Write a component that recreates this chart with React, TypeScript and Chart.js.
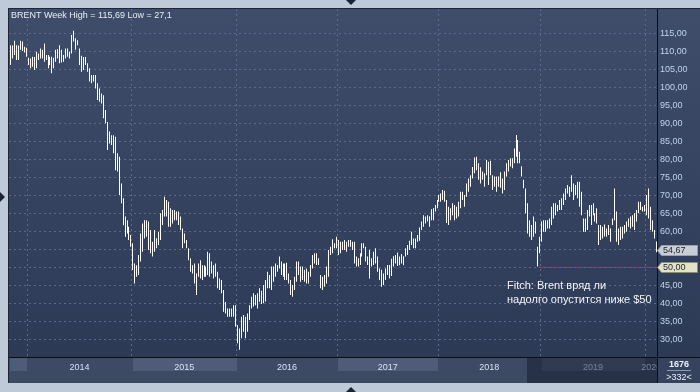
import React, { useEffect, useRef } from 'react';
import { Chart, registerables } from 'chart.js';

Chart.register(...registerables);

// ---------------- data (weekly BRENT high / low) ----------------
const weekHigh: number[] = [
  111.7, 111.6, 112.9, 111.7, 111.6, 112.9, 112.7, 111.3, 111.0, 108.2,
  108.0, 108.5, 108.4, 109.9, 109.4, 110.8, 110.4, 112.2, 109.0, 109.0,
  108.5, 108.5, 108.2, 110.4, 110.6, 111.7, 110.4, 109.0, 110.8, 110.8,
  109.9, 114.5, 115.69, 113.6, 113.1, 110.8, 108.8, 108.4, 108.4, 106.7,
  105.3, 103.4, 103.4, 103.4, 101.1, 99.7, 98.3, 97.8, 93.7, 90.4,
  87.7, 86.7, 86.7, 86.3, 81.7, 80.7, 73.3, 69.2, 64.1, 63.1,
  61.3, 59.0,
  56.7, 51.1, 50.6, 53.4, 59.4, 62.2, 63.1, 63.1, 62.7, 60.4,
  57.1, 60.4, 58.1, 59.9, 65.0, 65.9, 69.6, 68.7, 68.2, 66.4,
  65.9, 65.9, 65.5, 65.5, 64.1, 60.8, 59.4, 57.6, 55.3, 52.5,
  50.6, 51.1, 48.3, 51.1, 52.0, 50.6, 50.6, 50.2, 54.3, 53.9,
  51.6, 50.6, 51.1, 48.8, 46.9, 46.5, 43.7, 40.4, 38.6, 38.6,
  38.6, 39.5, 39.5, 34.0, 33.05, 36.3, 36.75, 36.3, 37.2, 39.5,
  41.8, 42.8, 42.3, 42.8, 44.2, 43.5,
  45.1, 46.5, 48.8, 47.9, 50.2, 50.2, 51.1, 50.65, 53.0, 51.6,
  51.1, 51.1, 51.3, 48.3, 46.5, 45.1, 47.4, 51.6, 51.6, 50.2,
  50.2, 49.3, 49.7, 48.8, 50.65, 53.4, 53.9, 53.9, 52.5, 47.9,
  47.4, 47.9, 50.2, 54.8, 55.7, 57.8, 56.7, 58.5, 57.6, 57.1,
  57.1, 57.6, 57.1, 57.6, 57.6, 57.1, 57.1, 53.0, 52.5, 53.9,
  56.7, 56.7, 55.7, 53.0, 54.8, 52.5, 54.3, 55.3, 53.0, 49.7,
  49.3, 48.3, 49.7, 50.65, 50.65,
  52.4,
  53.1, 53.4, 54.1, 53.0, 53.7, 53.1, 55.3, 56.2, 57.4, 59.9,
  58.0, 58.0, 59.0, 61.1, 62.7, 64.5, 64.1, 64.5, 64.2, 66.1,
  66.4, 67.3, 68.7, 70.1, 70.5, 71.5, 71.3, 68.7, 66.8, 66.4,
  67.8, 67.3, 66.8, 68.2, 71.0, 71.0, 70.1, 73.3, 74.7, 75.6,
  77.9, 80.5, 80.7, 78.9, 77.8, 76.6, 76.1, 79.8, 79.3, 79.6,
  75.6, 75.2, 75.2, 75.2, 76.4, 74.7, 76.6, 78.9, 79.8, 80.3,
  80.3, 83.0, 86.75, 85.4, 82.1,
  78.1, 74.3, 71.9, 67.8, 63.1, 61.75, 64.1, 62.7, 55.7, 58.5,
  62.7, 63.1, 63.1, 63.1, 63.6, 66.8, 67.8, 67.8, 67.3, 68.7,
  69.2, 70.5, 71.9, 72.9, 72.4, 75.6, 73.3, 72.9, 73.8, 73.8,
  71.0, 63.6, 63.6, 65.9, 67.3, 67.3, 67.8, 65.0, 66.4, 61.75,
  61.75, 61.3, 61.9, 60.8, 61.75, 60.8, 63.6, 71.9, 65.5, 60.8,
  61.3, 61.3, 61.75, 62.7, 63.6, 64.1, 64.5, 65.0, 65.9, 68.2,
  68.2, 66.8, 67.3, 70.1, 71.9, 66.8, 63.1, 60.4, 57.2,
];

const weekLow: number[] = [
  106.2, 108.0, 109.0, 107.6, 107.6, 110.4, 110.1, 109.7, 108.5, 106.2,
  105.3, 105.7, 104.8, 105.3, 107.6, 108.0, 108.0, 107.1, 107.6, 105.3,
  106.2, 103.9, 105.3, 107.1, 108.0, 106.7, 106.9, 107.1, 108.0, 108.5,
  108.0, 109.4, 112.7, 110.4, 111.7, 106.2, 104.3, 104.8, 106.2, 104.3,
  101.6, 101.1, 101.6, 99.7, 96.5, 96.0, 95.5, 91.4, 90.0, 82.6,
  84.4, 84.0, 81.7, 77.0, 76.6, 70.1, 67.8, 61.7, 58.5, 59.4,
  57.6, 55.7,
  49.25, 45.5, 47.4, 47.9, 51.6, 54.3, 58.0, 58.5, 54.8, 53.9,
  53.0, 54.3, 55.3, 56.2, 57.6, 61.75, 64.1, 64.1, 61.3, 61.3,
  62.2, 63.1, 63.1, 61.75, 60.4, 55.3, 56.7, 55.3, 52.0, 48.8,
  48.3, 45.5, 42.3, 47.4, 46.9, 46.5, 47.4, 47.4, 47.9, 47.4,
  48.3, 46.9, 47.4, 44.2, 43.7, 42.8, 37.7, 37.2, 36.3, 36.3,
  36.3, 36.3, 33.5, 28.9, 27.1, 30.3, 32.1, 30.3, 32.1, 35.4,
  38.6, 39.1, 39.5, 38.6, 40.45, 39.8,
  40.0, 40.5, 44.2, 44.2, 43.7, 46.0, 47.4, 48.8, 49.7, 47.9,
  47.4, 46.5, 46.5, 45.5, 42.3, 41.8, 43.7, 46.0, 47.9, 46.0,
  46.5, 46.0, 45.5, 45.5, 47.4, 49.7, 51.1, 50.65, 50.65, 44.2,
  43.7, 44.6, 45.5, 47.4, 53.4, 53.9, 55.3, 55.3, 53.4, 53.9,
  54.8, 54.8, 54.3, 55.7, 55.7, 54.8, 51.1, 50.2, 50.2, 50.65,
  53.0, 55.3, 51.6, 50.65, 46.9, 50.2, 50.65, 51.1, 48.8, 46.5,
  44.6, 45.1, 46.5, 47.9, 46.9,
  47.6,
  50.2, 51.1, 50.4, 50.6, 51.1, 50.6, 53.0, 53.4, 54.8, 56.2,
  55.3, 55.3, 57.1, 57.4, 60.4, 61.3, 62.2, 62.7, 61.3, 63.1,
  63.1, 65.5, 66.4, 68.2, 68.2, 68.7, 68.2, 62.3, 61.75, 63.1,
  64.5, 63.1, 63.6, 64.1, 66.4, 68.7, 66.8, 69.6, 71.0, 72.4,
  74.7, 76.1, 77.0, 74.3, 73.3, 74.3, 72.4, 75.6, 72.9, 75.6,
  71.5, 72.4, 71.0, 72.4, 72.1, 70.5, 71.5, 75.2, 76.6, 78.0,
  77.5, 78.9, 80.7, 78.9, 78.9,
  75.2, 72.0, 65.0, 59.4, 58.5, 57.6, 58.5, 59.4, 50.25, 53.9,
  57.1, 59.9, 59.9, 60.8, 60.8, 61.75, 63.6, 64.5, 65.5, 65.9,
  65.9, 67.3, 68.7, 70.5, 69.6, 71.0, 68.7, 70.1, 69.2, 66.8,
  64.5, 59.9, 59.9, 60.4, 64.1, 61.75, 64.5, 62.7, 62.2, 56.2,
  57.6, 58.0, 58.6, 58.5, 59.0, 57.1, 61.75, 63.1, 57.1, 56.2,
  57.6, 58.0, 59.4, 59.9, 61.3, 60.8, 61.3, 60.4, 62.7, 65.0,
  65.9, 65.5, 65.5, 64.5, 63.6, 60.4, 59.9, 58.0, 54.2,
];

const yearLabels: string[] = ['2014', '2015', '2016', '2017', '2018', '2019', '2020'];
const yearStartWeek: number[] = [9, 62, 115, 166, 217, 269, 322];
const yTickValues: number[] = [30, 35, 40, 45, 50, 55, 60, 65, 70, 75, 80, 85, 90, 95, 100, 105, 110, 115];
const lastPrice = 54.67;
const supportLevel = 50;
const supportFromWeek = 268.5;
const titleText = 'BRENT Week High = 115,69 Low = 27,1';
const noteLines: string[] = ['Fitch: Brent вряд ли', 'надолго опустится ниже $50'];
const totalBarsText = '1676';
const visibleBarsText = '>332<';

// ---------------- layout constants ----------------
const W = 700;
const H = 392;
const X_MIN = -0.76;
const X_MAX = 327.4;
const Y_MIN = 25.1;
const Y_MAX = 121.75;
const PANEL_BOTTOM = 383;
const OVERLAY_LEFT = 527;
const FONT = "'Liberation Sans', Arial, sans-serif";

const fmt = (v: number) => v.toFixed(2).replace('.', ',');

const yearLabelPos: number[] = yearStartWeek.map((w, k) => {
  const start = Math.max(w - 0.5, X_MIN);
  const end = k + 1 < yearStartWeek.length ? yearStartWeek[k + 1] - 0.5 : X_MAX;
  return (start + Math.min(end, X_MAX)) / 2;
});

const framePlugin = {
  id: 'brentFrame',
  beforeDraw(chart: any) {
    const { ctx, chartArea: a } = chart;
    const xs = chart.scales.x;
    ctx.save();
    ctx.fillStyle = '#bfcad9';
    ctx.fillRect(0, 0, W, H);
    // plot + axis panel background
    const g = ctx.createLinearGradient(0, a.top, 0, a.bottom);
    g.addColorStop(0, '#3f4d6a');
    g.addColorStop(1, '#2d3a56');
    ctx.fillStyle = g;
    ctx.fillRect(a.left, a.top, W - a.left, a.bottom - a.top);
    // panel border
    ctx.fillStyle = '#1d2537';
    ctx.fillRect(8, 8, W - 8, 1);
    ctx.fillRect(8, 8, 1, PANEL_BOTTOM - 8);
    // time band
    ctx.fillStyle = '#3d4a64';
    ctx.fillRect(a.left, a.bottom, W - a.left, PANEL_BOTTOM - a.bottom);
    const bounds = [X_MIN, ...yearStartWeek.map((w) => w - 0.5), X_MAX];
    ctx.fillStyle = '#4e5c78';
    for (let k = 0; k < bounds.length - 1; k++) {
      if (k % 2 === 0) {
        const x0 = Math.round(xs.getPixelForValue(Math.max(bounds[k], X_MIN)));
        const x1 = Math.round(xs.getPixelForValue(Math.min(bounds[k + 1], X_MAX)));
        ctx.fillRect(x0 + 1, a.bottom + 1, x1 - x0 - 1, 13);
      }
    }
    // little navigation triangles
    ctx.fillStyle = '#1a2233';
    ctx.beginPath();
    ctx.moveTo(346, 0); ctx.lineTo(356, 0); ctx.lineTo(351, 5); ctx.closePath(); ctx.fill();
    ctx.beginPath();
    ctx.moveTo(346, H); ctx.lineTo(356, H); ctx.lineTo(351, H - 5); ctx.closePath(); ctx.fill();
    ctx.beginPath();
    ctx.moveTo(0, 192); ctx.lineTo(0, 202); ctx.lineTo(5, 197); ctx.closePath(); ctx.fill();
    ctx.restore();
  },
  beforeDatasetsDraw(chart: any) {
    const meta = chart.getDatasetMeta(0);
    meta.data.forEach((el: any) => {
      el.x = Math.floor(el.x) + 0.5;
    });
  },
  afterDraw(chart: any) {
    const { ctx, chartArea: a } = chart;
    const ys = chart.scales.y;
    ctx.save();
    // axis lines
    ctx.fillStyle = '#0a0e16';
    ctx.fillRect(a.left, a.bottom, W - a.left, 1);
    ctx.fillRect(a.right, a.top, 1, PANEL_BOTTOM - a.top);
    // dark overlay over the right part of the time band
    ctx.fillStyle = 'rgba(18,26,44,0.5)';
    ctx.fillRect(OVERLAY_LEFT, a.bottom + 1, a.right - OVERLAY_LEFT, PANEL_BOTTOM - a.bottom - 1);
    // corner box
    ctx.fillStyle = '#35435e';
    ctx.fillRect(a.right + 1, a.bottom + 1, W - a.right - 1, PANEL_BOTTOM - a.bottom - 1);
    ctx.fillStyle = '#8a97ad';
    ctx.fillRect(667, 370, 24, 1);
    ctx.textAlign = 'center';
    ctx.textBaseline = 'middle';
    ctx.fillStyle = '#eef2f8';
    ctx.font = `bold 9px ${FONT}`;
    ctx.fillText(totalBarsText, 679, 365);
    ctx.font = `9px ${FONT}`;
    ctx.fillText(visibleBarsText, 679, 377.5);

    // price tags on the axis
    const tag = (value: number, fill: string, stroke: string, dy: number) => {
      const y = Math.round(ys.getPixelForValue(value) + dy) + 0.5;
      const x0 = a.right + 0.5;
      const x1 = a.right + 4.5;
      const x2 = W - 2.5;
      ctx.beginPath();
      ctx.moveTo(x0, y);
      ctx.lineTo(x1, y - 5);
      ctx.lineTo(x2, y - 5);
      ctx.lineTo(x2, y + 5);
      ctx.lineTo(x1, y + 5);
      ctx.closePath();
      ctx.fillStyle = fill;
      ctx.fill();
      ctx.strokeStyle = stroke;
      ctx.lineWidth = 1;
      ctx.stroke();
      ctx.fillStyle = '#1e232c';
      ctx.font = `9px ${FONT}`;
      ctx.textAlign = 'left';
      ctx.textBaseline = 'middle';
      ctx.fillText(fmt(value), a.right + 6, y + 0.5);
    };
    tag(lastPrice, '#c9cdd5', '#9aa0aa', -1);
    tag(supportLevel, '#e3e3c8', '#8e8e74', -0.5);

    // title and note
    ctx.textAlign = 'left';
    ctx.textBaseline = 'alphabetic';
    ctx.font = `9px ${FONT}`;
    ctx.fillStyle = '#e8edf5';
    ctx.fillText(titleText, 11, 18);
    ctx.font = `11px ${FONT}`;
    ctx.fillStyle = '#f2f5f9';
    noteLines.forEach((t, i) => ctx.fillText(t, 507, 289 + i * 14));
    ctx.restore();
  },
};

function makeConfig(): any {
  return {
    type: 'bar',
    data: {
      datasets: [
        {
          type: 'bar',
          data: weekHigh.map((h, i) => ({ x: i, y: [weekLow[i], h] })),
          backgroundColor: '#ffffff',
          borderWidth: 0,
          barThickness: 1,
          inflateAmount: 0,
          xAxisID: 'x',
          yAxisID: 'y',
        },
        {
          type: 'line',
          data: [
            { x: supportFromWeek, y: supportLevel },
            { x: X_MAX, y: supportLevel },
          ],
          borderColor: '#d12a30',
          borderWidth: 1,
          borderDash: [3, 2],
          pointRadius: 0,
          fill: false,
          xAxisID: 'x',
          yAxisID: 'y',
        },
      ],
    },
    options: {
      responsive: false,
      animation: false,
      events: [],
      layout: { padding: { left: 9, top: 9, right: 0, bottom: 0 }, autoPadding: false },
      plugins: {
        legend: { display: false },
        tooltip: { enabled: false },
        title: { display: false },
      },
      scales: {
        x: {
          type: 'linear',
          position: 'bottom',
          offset: false,
          min: X_MIN,
          max: X_MAX,
          afterBuildTicks: (s: any) => {
            s.ticks = yearStartWeek.map((w) => ({ value: w - 0.5 }));
          },
          afterFit: (s: any) => {
            s.height = 0;
          },
          ticks: { display: false },
          grid: { color: '#5a6889', lineWidth: 1, drawTicks: false, offset: false },
          border: { display: false, dash: [2, 3] },
        },
        xYear: {
          type: 'linear',
          position: 'bottom',
          offset: false,
          min: X_MIN,
          max: X_MAX,
          afterBuildTicks: (s: any) => {
            s.ticks = yearLabelPos.map((v) => ({ value: v }));
          },
          afterFit: (s: any) => {
            s.height = H - 357;
          },
          ticks: {
            autoSkip: false,
            maxRotation: 0,
            padding: 5,
            color: '#d4e2f2',
            font: { size: 9, family: FONT },
            callback: (_v: any, i: number) => yearLabels[i],
          },
          grid: { display: false, drawTicks: false, offset: false },
          border: { display: false },
        },
        y: {
          type: 'linear',
          position: 'right',
          min: Y_MIN,
          max: Y_MAX,
          afterBuildTicks: (s: any) => {
            s.ticks = yTickValues.map((v) => ({ value: v }));
          },
          afterFit: (s: any) => {
            s.width = 43;
          },
          ticks: {
            padding: 3,
            color: '#bfd4ec',
            font: { size: 9, family: FONT },
            callback: (v: any) => fmt(Number(v)),
          },
          grid: { color: '#5a6889', lineWidth: 1, drawTicks: false },
          border: { display: false, dash: [2, 3] },
        },
      },
    },
    plugins: [framePlugin],
  };
}

export default function App() {
  const ref = useRef<HTMLCanvasElement | null>(null);
  useEffect(() => {
    Chart.defaults.font.family = FONT;
    const chart = new Chart(ref.current as HTMLCanvasElement, makeConfig());
    return () => chart.destroy();
  }, []);
  return (
    <div style={{ position: 'absolute', left: 0, top: 0, width: W, height: H }}>
      <canvas ref={ref} width={W} height={H} style={{ display: 'block', width: W, height: H }} />
    </div>
  );
}
